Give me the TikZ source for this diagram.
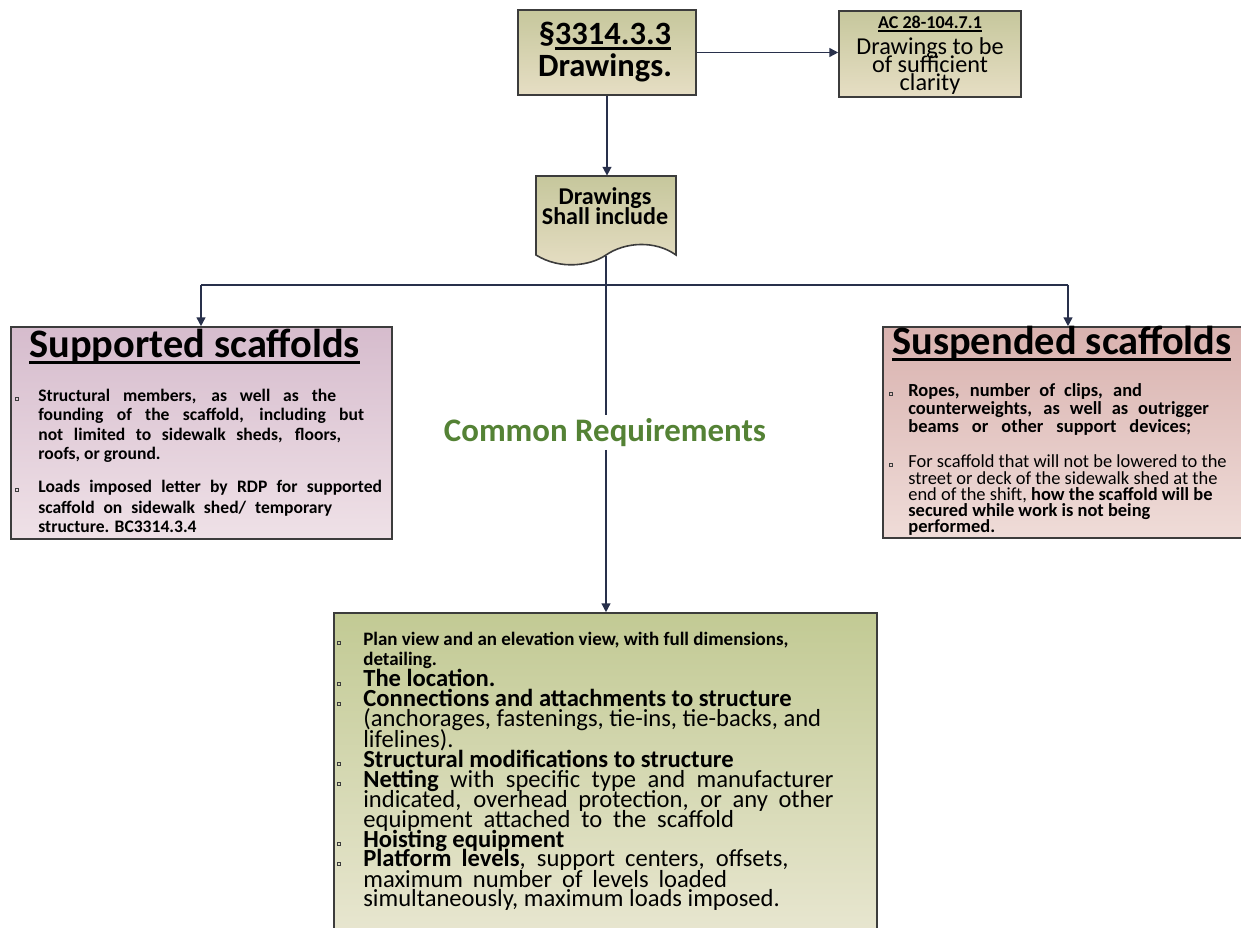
\documentclass[tikz,border=0pt]{standalone}
\usepackage{fontspec}
\setmainfont{Carlito}
\usetikzlibrary{arrows.meta,fit}
\definecolor{cline}{RGB}{40,48,75}
\definecolor{bord}{RGB}{60,60,60}
\definecolor{crgreen}{RGB}{84,130,53}
\definecolor{khakiT}{RGB}{198,199,156}
\definecolor{khakiB}{RGB}{230,222,196}
\definecolor{supT}{RGB}{214,188,205}
\definecolor{supB}{RGB}{239,225,231}
\definecolor{susT}{RGB}{217,178,175}
\definecolor{susB}{RGB}{239,220,216}
\definecolor{botT}{RGB}{194,202,148}
\definecolor{botB}{RGB}{233,231,210}
\newsavebox\ulbox
\newcommand\ulin[1]{\sbox\ulbox{#1}\rlap{\rule[-0.14em]{\wd\ulbox}{0.065em}}\usebox\ulbox}
\newcommand\mybul[2]{\draw[bord, line width=0.45pt] ({#1-1.8},{#2-1.8}) rectangle ({#1+1.8},{#2+1.8});}
\newcommand\fTop{\fontsize{18.5}{20}\selectfont\bfseries}
\newcommand\fAcH{\fontsize{10.3}{12}\selectfont\bfseries}
\newcommand\fAc{\fontsize{13.8}{15}\selectfont}
\newcommand\fDoc{\fontsize{13.7}{15}\selectfont\bfseries}
\newcommand\fCr{\fontsize{18.7}{20}\selectfont\bfseries}
\newcommand\fTitle{\fontsize{23}{25}\selectfont\bfseries}
\newcommand\fSup{\fontsize{10}{12}\selectfont\bfseries}
\newcommand\fSus{\fontsize{10.5}{12}\selectfont}
\newcommand\fBotS{\fontsize{10.8}{12}\selectfont\bfseries}
\newcommand\fBot{\fontsize{14}{15}\selectfont}
\begin{document}
\begin{tikzpicture}[x=0.02cm,y=-0.02cm,
  box/.style={draw=bord, line width=0.9pt, inner sep=0pt},
  txt/.style={inner sep=0pt, anchor=base west, text height=0.6em, text depth=0.1em},
  ctxt/.style={inner sep=0pt, anchor=base, text height=0.6em, text depth=0.1em},
  conn/.style={draw=cline, line width=0.85pt},
  arr/.style={conn, -{Triangle[length=5pt,width=5pt]}}]
\useasboundingbox (0,0) rectangle (1241,928);
\begin{scope}
\clip (0,0) rectangle (1241,928);
\fill[white] (0,0) rectangle (1241,928);

% boxes
\node[box, fit={(518,10) (696,95)}, top color=khakiT, bottom color=khakiB] (top) {};
\node[box, fit={(839,11) (1021,97)}, top color=khakiT, bottom color=khakiB] (ac) {};
\node[inner sep=0pt, fit={(536,176) (676,256)}] (doc) {};
\node[box, fit={(11,327) (392,539)}, top color=supT, bottom color=supB] (sup) {};
\node[box, fit={(883,327) (1260,538)}, top color=susT, bottom color=susB] (sus) {};
\node[box, fit={(334,613) (877,945)}, top color=botT, bottom color=botB] (bot) {};

% connectors
\coordinate (jn) at (606,285);
\coordinate (jl) at (201,285);
\coordinate (jr) at (1068,285);
\coordinate (g1) at (606,415);
\coordinate (g2) at (606,450);
\draw[arr] (top.east) -- (top.east -| ac.west);
\draw[arr] (top.south) -- (top.south |- doc.north);
\draw[conn] (doc.south) -- (g1);
\draw[conn] (jl) -- (jr);
\draw[arr] (jl) -- (jl |- sup.north);
\draw[arr] (jr) -- (jr |- sus.north);
\draw[arr] (g2) -- (g2 |- bot.north);

% document shape
\draw[draw=bord, line width=0.9pt, top color=khakiT, bottom color=khakiB]
  (536,176) -- (676,176) -- (676,255)
  .. controls (655,240) and (625,242) .. (606,255)
  .. controls (590,266) and (560,270) .. (536,255) -- cycle;

% top box text
\node[ctxt, font=\fTop] (t1) at (605,45) {§\ulin{3314.3.3}};
\node[ctxt, font=\fTop] (t2) at (605,77) {Drawings.};
% ac text
\node[ctxt, font=\fAcH] (a1) at (930,29) {\ulin{AC 28-104.7.1}};
\node[ctxt, font=\fAc] (a2) at (930,55) {Drawings to be};
\node[ctxt, font=\fAc] (a3) at (930,73) {of sufficient};
\node[ctxt, font=\fAc] (a4) at (930,91) {clarity};
% doc text
\node[ctxt, font=\fDoc] (d1) at (605,205) {Drawings};
\node[ctxt, font=\fDoc] (d2) at (605,225) {Shall include};
% common requirements
\node[ctxt, font=\fCr, text=crgreen] (cr) at (605,442) {Common Requirements};

% supported
\node[txt, font=\fTitle] (supt) at (29,358) {\ulin{Supported scaffolds}};
\mybul{17}{399}
\node[txt, font=\fSup] (s1) at (38,402) {\makebox[169.5pt][s]{Structural members, as well as the}};
\node[txt, font=\fSup] (s2) at (38,421) {\makebox[185.4pt][s]{founding of the scaffold, including but}};
\node[txt, font=\fSup] (s3) at (38,441) {\makebox[172.3pt][s]{not limited to sidewalk sheds, floors,}};
\node[txt, font=\fSup] (s4) at (38,460) {roofs, or ground.};
\mybul{17}{490}
\node[txt, font=\fSup] (s5) at (38,493) {\makebox[195.6pt][s]{Loads imposed letter by RDP for supported}};
\node[txt, font=\fSup] (s6) at (38,514) {\makebox[167.2pt][s]{scaffold on sidewalk shed/ temporary}};
\node[txt, font=\fSup] (s7) at (38,533) {structure. BC3314.3.4};

% suspended
\node[txt, font=\fTitle] (sust) at (892,355) {\ulin{Suspended scaffolds}};
\mybul{891}{394}
\node[txt, font=\fSus\bfseries] (u1) at (908,397) {\makebox[133pt][s]{Ropes, number of clips, and}};
\node[txt, font=\fSus\bfseries] (u2) at (908,415) {\makebox[171pt][s]{counterweights, as well as outrigger}};
\node[txt, font=\fSus\bfseries] (u3) at (908,433) {\makebox[161pt][s]{beams or other support devices;}};
\mybul{891}{465}
\node[txt, font=\fSus] (u4) at (908,468) {For scaffold that will not be lowered to the};
\node[txt, font=\fSus] (u5) at (908,484.5) {street or deck of the sidewalk shed at the};
\node[txt, font=\fSus] (u6) at (908,501) {end of the shift, \textbf{how the scaffold will be}};
\node[txt, font=\fSus\bfseries] (u7) at (908,517) {secured while work is not being};
\node[txt, font=\fSus\bfseries] (u8) at (908,533) {performed.};

% bottom
\mybul{339}{643}
\node[txt, font=\fBotS] (b1) at (363,646) {Plan view and an elevation view, with full dimensions,};
\node[txt, font=\fBotS] (b2) at (363,666) {detailing.};
\mybul{339}{684}
\node[txt, font=\fBot\bfseries] (b3) at (363,687) {The location.};
\mybul{339}{704}
\node[txt, font=\fBot\bfseries] (b4) at (363,707) {Connections and attachments to structure};
\node[txt, font=\fBot] (b5) at (363,727) {(anchorages, fastenings, tie-ins, tie-backs, and};
\node[txt, font=\fBot] (b6) at (363,747) {lifelines).};
\mybul{339}{764}
\node[txt, font=\fBot\bfseries] (b7) at (363,767) {Structural modifications to structure};
\mybul{339}{784}
\node[txt, font=\fBot] (b8) at (363,787) {\makebox[267.6pt][s]{\textbf{Netting} with specific type and manufacturer}};
\node[txt, font=\fBot] (b9) at (363,807) {\makebox[267.6pt][s]{indicated, overhead protection, or any other}};
\node[txt, font=\fBot] (b10) at (363,827) {\makebox[211pt][s]{equipment attached to the scaffold}};
\mybul{339}{844}
\node[txt, font=\fBot\bfseries] (b11) at (363,847) {Hoisting equipment};
\mybul{339}{864}
\node[txt, font=\fBot] (b12) at (363,867) {\makebox[242pt][s]{\textbf{Platform levels}, support centers, offsets,}};
\node[txt, font=\fBot] (b13) at (363,887) {\makebox[207pt][s]{maximum number of levels loaded}};
\node[txt, font=\fBot] (b14) at (363,906) {simultaneously, maximum loads imposed.};
\end{scope}
\end{tikzpicture}
\end{document}
